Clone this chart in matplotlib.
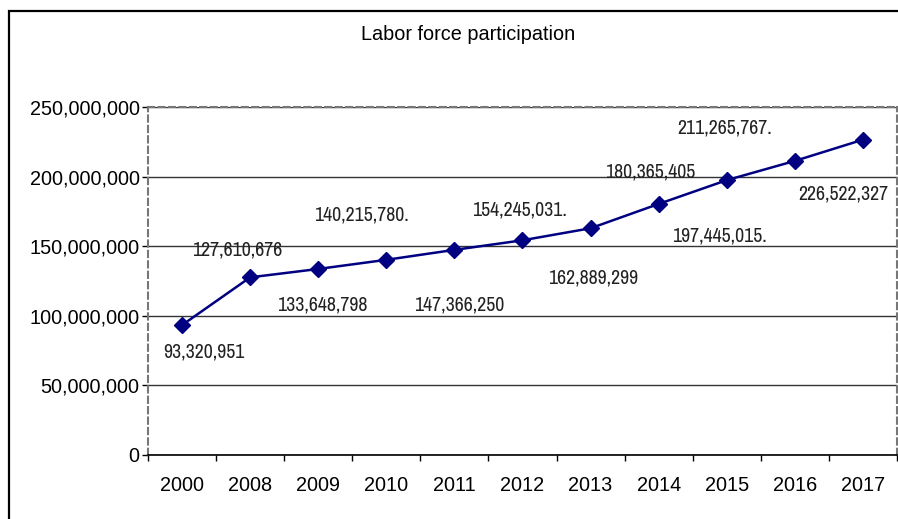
import matplotlib
matplotlib.use("Agg")
import matplotlib.pyplot as plt
from matplotlib.patches import Rectangle
from matplotlib.ticker import FuncFormatter, MultipleLocator
from matplotlib import font_manager as fm

years = ["2000", "2008", "2009", "2010", "2011", "2012", "2013", "2014", "2015", "2016", "2017"]
values = [93320951, 127610676, 133648798, 140215780, 147366250, 154245031,
          162889299, 180365405, 197445015, 211265767, 226522327]
labels = ["93,320,951", "127,610,676", "133,648,798", "140,215,780.", "147,366,250",
          "154,245,031.", "162,889,299", "180,365,405", "197,445,015.", "211,265,767.",
          "226,522,327"]
title = "Labor force participation"

# label offsets in pixels (dx right, dy down)
label_dx = [22, -13, 4, -25, 5, -3, 2, -9, -7, -70, -20]
label_dy = [27, -27, 36, -45, 55, -30, 50, -32, 56, -33, 54]

main_font = ["Liberation Sans", "DejaVu Sans"]
fs = 14.3

# find a condensed font if available
names = {f.name: f for f in fm.fontManager.ttflist}
cond_prop = None
for f in fm.fontManager.ttflist:
    if f.name in ("Liberation Sans Narrow", "DejaVu Sans Condensed", "Roboto Condensed",
                  "Open Sans Condensed") or ("Narrow" in f.name) or ("Condensed" in f.name):
        if f.style == "normal" and f.weight in (400, "normal", "regular"):
            cond_prop = fm.FontProperties(fname=f.fname, size=fs)
            break
if cond_prop is None:
    for f in fm.fontManager.ttflist:
        if f.stretch in ("condensed", "semi-condensed", "extra-condensed") and f.style == "normal":
            cond_prop = fm.FontProperties(fname=f.fname, size=fs)
            break
if cond_prop is None:
    cond_prop = fm.FontProperties(family=["Liberation Sans", "DejaVu Sans"], size=fs - 1)

fig = plt.figure(figsize=(8.98, 5.19), dpi=100)
fig.patch.set_facecolor("white")

# outer chart border
fig.patches.append(Rectangle((9 / 898, -0.1), 1.2, 1 - 11 / 519 + 0.1,
                             transform=fig.transFigure, fill=False,
                             edgecolor="black", linewidth=1.6))

ax = fig.add_axes([148 / 898, 64 / 519, 749 / 898, 348 / 519])
x = list(range(len(years)))
ax.plot(x, values, color="#000080", linewidth=1.8, marker="D", markersize=8,
        markerfacecolor="#000080", markeredgecolor="#000080", zorder=5)

ax.set_xlim(-0.5, len(years) - 0.5)
ax.set_ylim(0, 250000000)
ax.yaxis.set_major_locator(MultipleLocator(50000000))
ax.yaxis.set_major_formatter(FuncFormatter(lambda v, p: f"{int(v):,}"))
ax.set_xticks(x)
ax.set_xticklabels(years)
ax.set_xticks([i - 0.5 for i in range(len(years) + 1)], minor=True)

ax.tick_params(axis="x", which="major", length=0, pad=15, labelsize=fs)
ax.tick_params(axis="x", which="minor", length=4, width=1, direction="out", color="black")
ax.tick_params(axis="y", which="major", length=4, width=1, direction="out", pad=2,
               labelsize=fs, color="black")
for t in ax.get_xticklabels() + ax.get_yticklabels():
    t.set_family(main_font)

ax.grid(axis="y", color="#333333", linewidth=1)
ax.set_axisbelow(True)
for s in ["left", "top", "right"]:
    ax.spines[s].set_linestyle((0, (3, 2)))
    ax.spines[s].set_color("#777777")
    ax.spines[s].set_linewidth(1.5)
ax.spines["bottom"].set_color("black")
ax.spines["bottom"].set_linewidth(1.2)

for xi, v, lab, dx, dy in zip(x, values, labels, label_dx, label_dy):
    ax.annotate(lab, (xi, v), xytext=(dx, -dy), textcoords="offset pixels",
                ha="center", va="center", fontproperties=cond_prop,
                color="#222222")

fig.text(468 / 898, 1 - 34 / 519, title, ha="center", va="center",
         fontsize=fs, family=main_font, color="black")

fig.savefig("out.png", dpi=100, facecolor="white")
